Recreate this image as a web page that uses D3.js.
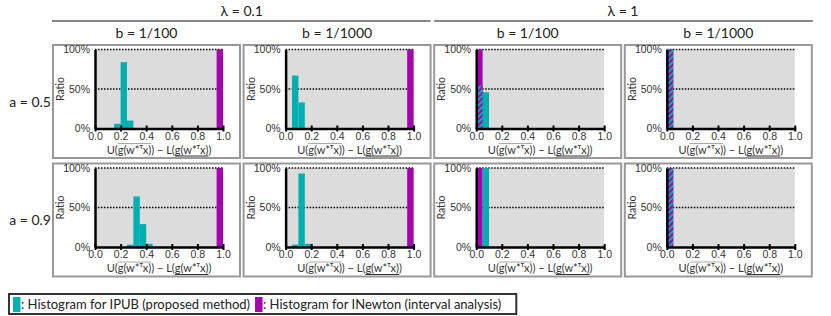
<!DOCTYPE html>
<html>
<head>
<meta charset="utf-8">
<script src="https://cdn.jsdelivr.net/npm/d3@7"></script>
<style>
  body { margin: 0; background: #fff; }
  svg { font-family: Lato, "Noto Sans", "DejaVu Sans", sans-serif; }
</style>
</head>
<body>
<div id="chart"></div>
<script>
// column / row headers
var lambdas = ["λ = 0.1", "λ = 1"];
var bValues = ["b = 1/100", "b = 1/1000"];
var aValues = ["a = 0.5", "a = 0.9"];
var xTicks = [0, 0.2, 0.4, 0.6, 0.8, 1.0];
var yTicks = [0, 50, 100];
var binWidth = 0.05;
var xLabel = "U(g(w*ᵀx)) − L(g(w*ᵀx))";
var legendLabels = [": Histogram for IPUB (proposed method)", ": Histogram for INewton (interval analysis)"];

// histograms, [bin start, percent]
// row a = 0.5
var ipub_l01_b100_a05 = [[0.15, 6], [0.20, 84], [0.25, 10]];
var inew_l01_b100_a05 = [[0.95, 100]];
var ipub_l01_b1000_a05 = [[0.05, 67], [0.10, 33]];
var inew_l01_b1000_a05 = [[0.95, 100]];
var ipub_l1_b100_a05 = [[0.00, 54], [0.05, 46]];
var inew_l1_b100_a05 = [[0.00, 100]];
var ipub_l1_b1000_a05 = [[0.00, 100]];
var inew_l1_b1000_a05 = [[0.00, 100]];
// row a = 0.9
var ipub_l01_b100_a09 = [[0.25, 3], [0.30, 64], [0.35, 29], [0.40, 4]];
var inew_l01_b100_a09 = [[0.95, 100]];
var ipub_l01_b1000_a09 = [[0.05, 3], [0.10, 93], [0.15, 4]];
var inew_l01_b1000_a09 = [[0.95, 100]];
var ipub_l1_b100_a09 = [[0.05, 100]];
var inew_l1_b100_a09 = [[0.00, 100]];
var ipub_l1_b1000_a09 = [[0.00, 100]];
var inew_l1_b1000_a09 = [[0.00, 100]];

var panels = [
  [[ipub_l01_b100_a05, inew_l01_b100_a05], [ipub_l01_b1000_a05, inew_l01_b1000_a05],
   [ipub_l1_b100_a05, inew_l1_b100_a05], [ipub_l1_b1000_a05, inew_l1_b1000_a05]],
  [[ipub_l01_b100_a09, inew_l01_b100_a09], [ipub_l01_b1000_a09, inew_l01_b1000_a09],
   [ipub_l1_b100_a09, inew_l1_b100_a09], [ipub_l1_b1000_a09, inew_l1_b1000_a09]]
];

var cyan = "#00b0b0";
var purple = "#a700b3";
var textCol = "#222";

var width = 831, height = 316;
var svg = d3.select("#chart").append("svg")
  .attr("width", width)
  .attr("height", height);

var defs = svg.append("defs");
var pat = defs.append("pattern")
  .attr("id", "hatch")
  .attr("patternUnits", "userSpaceOnUse")
  .attr("width", 4).attr("height", 4)
  .attr("patternTransform", "rotate(45)");
pat.append("rect").attr("width", 2).attr("height", 4).attr("fill", cyan);
pat.append("rect").attr("x", 2).attr("width", 2).attr("height", 4).attr("fill", purple);

var boxW = 189, boxH = 115;
var plotL = 43, plotT = 5.5, plotW = 128, plotH = 79;
function boxX(c) { return 52 + c * 190.6; }
function boxY(r) { return 44 + r * 118.5; }

// lambda headers
lambdas.forEach(function(t, i) {
  var x0 = boxX(i * 2), x1 = boxX(i * 2 + 1) + boxW;
  svg.append("text")
    .attr("x", (x0 + x1) / 2).attr("y", 16)
    .attr("text-anchor", "middle")
    .attr("font-size", 14)
    .attr("fill", textCol)
    .text(t);
  svg.append("line")
    .attr("x1", x0 + (i ? 1 : 0)).attr("x2", x1 - (i ? 0 : 1))
    .attr("y1", 21).attr("y2", 21)
    .attr("stroke", "#888").attr("stroke-width", 2);
});

// b headers
for (var c = 0; c < 4; c++) {
  svg.append("text")
    .attr("x", boxX(c) + boxW / 2).attr("y", 38)
    .attr("text-anchor", "middle")
    .attr("font-size", 14)
    .attr("fill", textCol)
    .text(bValues[c % 2]);
}

// a labels
aValues.forEach(function(t, r) {
  svg.append("text")
    .attr("x", 51).attr("y", boxY(r) + boxH / 2 + 5)
    .attr("text-anchor", "end")
    .attr("font-size", 14)
    .attr("fill", textCol)
    .text(t);
});

var x = d3.scaleLinear().domain([0, 1]).range([0, plotW]);
var y = d3.scaleLinear().domain([0, 100]).range([plotH, 0]);

function drawPanel(r, c) {
  var ipub = panels[r][c][0], inew = panels[r][c][1];
  var bx = boxX(c), by = boxY(r);

  svg.append("rect")
    .attr("x", bx + 1).attr("y", by + 1)
    .attr("width", boxW - 2).attr("height", boxH - 2)
    .attr("fill", "none")
    .attr("stroke", "#999").attr("stroke-width", 2);

  var g = svg.append("g")
    .attr("transform", "translate(" + (bx + plotL) + "," + (by + plotT) + ")");

  g.append("rect")
    .attr("width", plotW).attr("height", plotH)
    .attr("fill", "#dcdcdc");

  g.selectAll(".grid").data([50, 100]).enter()
    .append("line")
    .attr("x1", 0).attr("x2", plotW)
    .attr("y1", function(d) { return y(d); })
    .attr("y2", function(d) { return y(d); })
    .attr("stroke", "#000")
    .attr("stroke-width", 1.5)
    .attr("stroke-dasharray", "1.5,1.5");

  // INewton bars
  g.selectAll(".inew").data(inew).enter()
    .append("rect")
    .attr("x", function(d) { return x(d[0]); })
    .attr("width", x(binWidth) - x(0))
    .attr("y", function(d) { return y(d[1]); })
    .attr("height", function(d) { return plotH - y(d[1]); })
    .attr("fill", purple);

  // IPUB bars
  g.selectAll(".ipub").data(ipub).enter()
    .append("rect")
    .attr("x", function(d) { return x(d[0]); })
    .attr("width", x(binWidth) - x(0))
    .attr("y", function(d) { return y(d[1]); })
    .attr("height", function(d) { return plotH - y(d[1]); })
    .attr("fill", cyan);

  // overlap of both histograms, hatched
  var overlap = [];
  ipub.forEach(function(p) {
    inew.forEach(function(q) {
      if (Math.abs(p[0] - q[0]) < 1e-9) overlap.push([p[0], Math.min(p[1], q[1])]);
    });
  });
  g.selectAll(".both").data(overlap).enter()
    .append("rect")
    .attr("x", function(d) { return x(d[0]); })
    .attr("width", x(binWidth) - x(0))
    .attr("y", function(d) { return y(d[1]); })
    .attr("height", function(d) { return plotH - y(d[1]); })
    .attr("fill", "url(#hatch)");

  var xAxis = d3.axisBottom(x).tickValues(xTicks)
    .tickFormat(d3.format(".1f"))
    .tickSize(3).tickSizeOuter(0).tickPadding(1);
  var xa = g.append("g")
    .attr("transform", "translate(0," + plotH + ")")
    .call(xAxis);
  xa.select(".domain").attr("stroke-width", 2.5);
  xa.selectAll(".tick line").attr("y1", -3).attr("y2", 3).attr("stroke-width", 2);
  xa.selectAll("text").attr("font-size", 10.5).attr("fill", "#333")
    .attr("font-family", null);

  var yAxis = d3.axisLeft(y).tickValues(yTicks)
    .tickFormat(function(d) { return d + "%"; })
    .tickSize(0).tickPadding(5);
  var ya = g.append("g").call(yAxis);
  ya.select(".domain").attr("stroke-width", 2.5);
  ya.selectAll("text").attr("font-size", 10.5).attr("fill", "#333")
    .attr("font-family", null);

  g.append("text")
    .attr("transform", "translate(-31," + (plotH / 2) + ")rotate(-90)")
    .attr("text-anchor", "middle")
    .attr("font-size", 10.5)
    .attr("fill", "#333")
    .text("Ratio");

  // x label with overline on the upper term and underline on the lower one
  var lab = g.append("text")
    .attr("x", plotW / 2).attr("y", plotH + 25)
    .attr("text-anchor", "middle")
    .attr("font-size", 11)
    .attr("fill", "#333")
    .text(xLabel);
  var node = lab.node();
  var o0 = node.getStartPositionOfChar(2).x, o1 = node.getEndPositionOfChar(8).x;
  var u0 = node.getStartPositionOfChar(15).x, u1 = node.getEndPositionOfChar(21).x;
  g.append("line")
    .attr("x1", o0).attr("x2", o1)
    .attr("y1", plotH + 15).attr("y2", plotH + 15)
    .attr("stroke", "#aaa").attr("stroke-width", 1);
  g.append("line")
    .attr("x1", u0).attr("x2", u1)
    .attr("y1", plotH + 27.5).attr("y2", plotH + 27.5)
    .attr("stroke", "#333").attr("stroke-width", 1);
}

for (var r = 0; r < 2; r++) {
  for (var cc = 0; cc < 4; cc++) drawPanel(r, cc);
}

// legend
var leg = svg.append("g");
var legBox = leg.append("rect")
  .attr("x", 9).attr("y", 294)
  .attr("width", 501).attr("height", 20)
  .attr("fill", "#fff")
  .attr("stroke", "#333").attr("stroke-width", 2);
var lx = 13;
[cyan, purple].forEach(function(col, i) {
  leg.append("rect")
    .attr("x", lx).attr("y", 297)
    .attr("width", 7.5).attr("height", 15)
    .attr("fill", col);
  var t = leg.append("text")
    .attr("x", lx + 8).attr("y", 309)
    .attr("font-size", 13)
    .attr("fill", textCol)
    .text(legendLabels[i]);
  lx = lx + 8 + t.node().getComputedTextLength() + 5;
});
legBox.attr("width", Math.max(lx + 10 - 9, 300));
</script>
</body>
</html>
